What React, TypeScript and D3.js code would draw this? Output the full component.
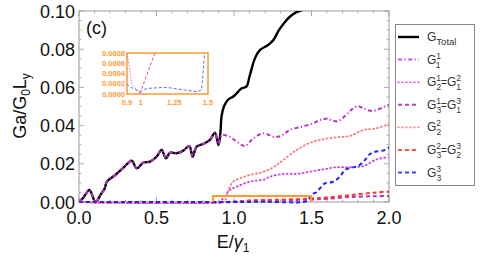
import React from "react";
import * as d3 from "d3";

// ---- data ----
const eTotal = [0, 0.03, 0.067, 0.107, 0.14, 0.165, 0.18, 0.232, 0.285, 0.34, 0.372, 0.415, 0.458, 0.5, 0.533, 0.561, 0.587, 0.63, 0.673, 0.712, 0.733, 0.759, 0.802, 0.845, 0.877, 0.9, 0.912, 0.92, 0.935, 0.96, 1.0, 1.05, 1.08, 1.1, 1.135, 1.168, 1.22, 1.254, 1.29, 1.33, 1.36, 1.4, 1.44];
const gTotal = [0, 0.0025, 0.0063, 0, 0.004, 0.007, 0.0106, 0.014, 0.0178, 0.0216, 0.0176, 0.0206, 0.0211, 0.0237, 0.0272, 0.0229, 0.0258, 0.0255, 0.0269, 0.0293, 0.0237, 0.029, 0.0304, 0.0325, 0.0363, 0.0298, 0.036, 0.045, 0.05, 0.0534, 0.0555, 0.0595, 0.0604, 0.0656, 0.0752, 0.0796, 0.0822, 0.0848, 0.09, 0.0944, 0.097, 0.0993, 0.1005];

const e11 = [0, 0.03, 0.067, 0.107, 0.14, 0.165, 0.18, 0.232, 0.285, 0.34, 0.372, 0.415, 0.458, 0.5, 0.533, 0.561, 0.587, 0.63, 0.673, 0.712, 0.733, 0.759, 0.802, 0.845, 0.877, 0.9, 0.92, 0.95, 0.98, 1.02, 1.07, 1.12, 1.19, 1.254, 1.3, 1.36, 1.437, 1.51, 1.555, 1.6, 1.64, 1.673, 1.716, 1.76, 1.8, 1.834, 1.877, 1.92, 1.96, 2.0];
const g11 = [0, 0.0025, 0.0063, 0, 0.004, 0.007, 0.0106, 0.014, 0.0178, 0.0216, 0.0176, 0.0206, 0.0211, 0.0237, 0.0272, 0.0229, 0.0258, 0.0255, 0.0269, 0.0293, 0.0237, 0.029, 0.0304, 0.0325, 0.0363, 0.0305, 0.035, 0.0348, 0.0338, 0.0315, 0.0293, 0.033, 0.036, 0.0342, 0.0345, 0.0377, 0.0394, 0.0412, 0.0429, 0.0436, 0.0425, 0.0424, 0.045, 0.0485, 0.0502, 0.049, 0.0478, 0.0482, 0.0495, 0.051];

const e21 = [0, 0.9, 0.92, 0.974, 1.017, 1.1, 1.2, 1.232, 1.318, 1.404, 1.49, 1.576, 1.66, 1.748, 1.834, 1.92, 2.0];
const g21 = [0, 0, 0.001, 0.0063, 0.008, 0.0106, 0.0119, 0.0133, 0.0147, 0.0147, 0.0159, 0.0171, 0.0182, 0.0182, 0.0188, 0.0223, 0.0235];

const e31 = [0, 0.95, 1.0, 1.2, 1.5, 1.6, 1.75, 1.9, 2.0];
const g31 = [0, 0, 0.0003, 0.0008, 0.0013, 0.0017, 0.0026, 0.003, 0.0031];

const e22 = [0, 0.93, 0.963, 0.995, 1.04, 1.1, 1.168, 1.22, 1.27, 1.318, 1.404, 1.49, 1.576, 1.66, 1.748, 1.834, 1.92, 2.0];
const g22 = [0, 0, 0.0063, 0.0106, 0.0124, 0.0141, 0.0153, 0.0168, 0.019, 0.022, 0.0272, 0.031, 0.0328, 0.0339, 0.0346, 0.0377, 0.0386, 0.041];

const e32 = [0, 1.0, 1.1, 1.3, 1.5, 1.6, 1.75, 1.9, 2.0];
const g32 = [0, 0, 0.0008, 0.0012, 0.0018, 0.0023, 0.0036, 0.0049, 0.0055];

const e33 = [0, 1.0, 1.2, 1.45, 1.48, 1.5, 1.53, 1.555, 1.587, 1.64, 1.684, 1.716, 1.76, 1.8, 1.845, 1.877, 1.91, 1.974, 2.0];
const g33 = [0, 0, 0.0001, 0.00005, 0.001, 0.004, 0.005, 0.0072, 0.0098, 0.0106, 0.0133, 0.0168, 0.018, 0.0188, 0.022, 0.0251, 0.0263, 0.0272, 0.0286];

// inset data
const insetBlueE = [0.9, 0.922, 0.996, 1.046, 1.19, 1.416, 1.453, 1.475];
const insetBlueG = [0.0002, 0.00014, 0.000045, 0.00011, 0.00013, 0.000045, 0.00008, 0.0008];
const insetPinkE = [0.996, 1.107];
const insetPinkG = [0.00001, 0.0008];
const insetDotE = [0.9, 0.922, 0.935, 0.984, 1.0];
const insetDotG = [0.0008, 0.00047, 0.0002, 0.00004, 0.00002];

const xTicks = [0, 0.5, 1.0, 1.5, 2.0];
const yTicks = [0, 0.02, 0.04, 0.06, 0.08, 0.1];
const insetXTicks = [0.9, 1, 1.25, 1.5];
const insetXLabels = ["0.9", "1", "1.25", "1.5"];
const insetYTicks = [0, 0.0002, 0.0004, 0.0006, 0.0008];

// legend names: superscript digit then subscript digit
const legendNames = ["Total", "11", "12=21", "13=31", "22", "23=32", "33"];

const W = 485, H = 263;
const L = 79, R = 389, T = 11, B = 202;

const series = [
  { e: eTotal, g: gTotal, color: "#000000", width: 2.4, dash: "" },
  { e: e21, g: g21, color: "#cc44e0", width: 1.8, dash: "1,3" },
  { e: e22, g: g22, color: "#ff7777", width: 1.8, dash: "1,3" },
  { e: e31, g: g31, color: "#b030c0", width: 2, dash: "4,3" },
  { e: e32, g: g32, color: "#ff3333", width: 2, dash: "4,3" },
  { e: e33, g: g33, color: "#2222ff", width: 2, dash: "4,3" },
  { e: e11, g: g11, color: "#c030d0", width: 2, dash: "4,2.5,1.2,2.5" },
];

const legendStyles = [
  { color: "#000000", width: 2.4, dash: "" },
  { color: "#d050e8", width: 2, dash: "4,2.5,1.2,2.5" },
  { color: "#dd55ee", width: 1.6, dash: "1,3" },
  { color: "#b040c8", width: 2, dash: "4,3" },
  { color: "#ff9090", width: 1.6, dash: "1,3" },
  { color: "#ff5050", width: 2, dash: "4,3" },
  { color: "#4444ff", width: 2, dash: "4,3" },
];

function LegendLabel({ x, y, name }: { x: number; y: number; name: string }) {
  const fs = 12, ss = 8.5;
  const parts = name === "Total" ? null : name.split("=");
  const col = "#333";
  if (!parts) {
    return (
      <text x={x} y={y + 4} fontSize={fs} fill={col} fontFamily="Liberation Sans, Arial, sans-serif">
        G<tspan fontSize={ss + 1} dy={4}>Total</tspan>
      </text>
    );
  }
  const children: any[] = [];
  parts.forEach((p, i) => {
    const sup = p[0], sub = p[1];
    if (i > 0) children.push(<tspan key={"eq" + i} fontSize={fs - 2} dy={-4}>=</tspan>);
    children.push(<tspan key={"g" + i} fontSize={fs}>G</tspan>);
    children.push(<tspan key={"sup" + i} fontSize={ss} dy={-5}>{sup}</tspan>);
    children.push(<tspan key={"sub" + i} fontSize={ss} dx={-4.7} dy={9}>{sub}</tspan>);
  });
  return (
    <text x={x} y={y + 4} fill={col} fontFamily="Liberation Sans, Arial, sans-serif">
      {children}
    </text>
  );
}

export default function App() {
  const x = d3.scaleLinear().domain([0, 2]).range([L, R]);
  const y = d3.scaleLinear().domain([0, 0.1]).range([B, T]);
  const line = (e: number[], g: number[]) =>
    d3.line<number>().x((_, i) => x(e[i])).y((_, i) => y(g[i])).curve(d3.curveCatmullRom.alpha(0.5))(e) || "";

  const ix = d3.scaleLinear().domain([0.9, 1.5]).range([127, 208]);
  const iy = d3.scaleLinear().domain([0, 0.0008]).range([94, 53]);
  const iline = (e: number[], g: number[]) =>
    d3.line<number>().x((_, i) => ix(e[i])).y((_, i) => iy(g[i]))(e) || "";

  const frame = "#999";
  const xMinor = d3.range(0, 2.0001, 0.1);
  const yMinor = d3.range(0, 0.10001, 0.005);
  const font = "Liberation Sans, Arial, sans-serif";
  const orange = "#ff9a33";

  return (
    <svg width={W} height={H} style={{ position: "absolute", left: 0, top: 0, background: "#fff" }}>
      <defs>
        <clipPath id="plotclip">
          <rect x={L} y={T} width={R - L} height={B - T + 2} />
        </clipPath>
        <clipPath id="insetclip">
          <rect x={127} y={53} width={81} height={41} />
        </clipPath>
      </defs>
      {/* ticks */}
      {xMinor.map((v, i) => {
        const major = Math.abs(v * 2 - Math.round(v * 2)) < 1e-6;
        const len = major ? 5 : 2.5;
        return (
          <g key={"xt" + i} stroke={frame} strokeWidth={0.8}>
            <line x1={x(v)} x2={x(v)} y1={B} y2={B - len} />
            <line x1={x(v)} x2={x(v)} y1={T} y2={T + len} />
          </g>
        );
      })}
      {yMinor.map((v, i) => {
        const major = i % 4 === 0;
        const len = major ? 5 : 2.5;
        return (
          <g key={"yt" + i} stroke={frame} strokeWidth={0.8}>
            <line x1={L} x2={L + len} y1={y(v)} y2={y(v)} />
            <line x1={R} x2={R - len} y1={y(v)} y2={y(v)} />
          </g>
        );
      })}
      <rect x={L} y={T} width={R - L} height={B - T} fill="none" stroke={frame} strokeWidth={1} />

      {/* series */}
      <g clipPath="url(#plotclip)" fill="none">
        {series.map((s, i) => (
          <path key={i} d={line(s.e, s.g)} stroke={s.color} strokeWidth={s.width}
            strokeDasharray={s.dash || undefined} strokeLinecap={s.dash === "1,3" ? "round" : "butt"} />
        ))}
      </g>

      {/* orange box marker */}
      <path d={`M${x(0.865)},${y(0)} V${y(0.0031)} H${x(1.497)} V${y(0)}`} fill="none" stroke={orange} strokeWidth={2} />

      {/* axis labels */}
      {xTicks.map((v) => (
        <text key={"xl" + v} x={x(v)} y={224} fontSize={18} textAnchor="middle" fontFamily={font} fill="#111">
          {v.toFixed(1)}
        </text>
      ))}
      {yTicks.map((v) => (
        <text key={"yl" + v} x={75} y={y(v) + 6.5} fontSize={18} textAnchor="end" fontFamily={font} fill="#111">
          {v.toFixed(2)}
        </text>
      ))}
      <text x={233} y={248} fontSize={18} textAnchor="middle" fontFamily={font} fill="#111">
        E/<tspan fontStyle="italic">γ</tspan><tspan fontSize={12} dy={4}>1</tspan>
      </text>
      <text transform={`translate(26,106) rotate(-90)`} fontSize={18} textAnchor="middle" fontFamily={font} fill="#111">
        Ga/G<tspan fontSize={12} dy={4}>0</tspan><tspan dy={-4}>L</tspan><tspan fontSize={12} dy={4}>y</tspan>
      </text>
      <text x={86} y={34} fontSize={18} fontFamily={font} fill="#111">(c)</text>

      {/* inset */}
      <g>
        <rect x={127} y={53} width={81} height={41} fill="#fff" stroke={orange} strokeWidth={1.5} />
        <g fill="none" clipPath="url(#insetclip)">
          <path d={iline(insetDotE, insetDotG)} stroke="#e070c0" strokeWidth={1} strokeDasharray="1.5,1.5" />
          <path d={iline(insetPinkE, insetPinkG)} stroke="#e0508a" strokeWidth={1} strokeDasharray="3,2" />
          <path d={iline(insetBlueE, insetBlueG)} stroke="#6666ee" strokeWidth={1} strokeDasharray="3,2" />
        </g>
        {insetYTicks.map((v) => (
          <text key={"iy" + v} x={125} y={iy(v) + 2.5} fontSize={7.5} fontWeight="bold" textAnchor="end" fontFamily={font} fill={orange}>
            {v.toFixed(4)}
          </text>
        ))}
        {insetXTicks.map((v, i) => (
          <text key={"ix" + v} x={ix(v)} y={105} fontSize={7.5} fontWeight="bold" textAnchor="middle" fontFamily={font} fill={orange}>
            {insetXLabels[i]}
          </text>
        ))}
      </g>

      {/* legend */}
      <rect x={395.5} y={24.5} width={79} height={161} fill="#fff" stroke="#888" strokeWidth={1} />
      {legendNames.map((n, i) => {
        const yy = 37 + i * 22.6;
        const st = legendStyles[i];
        return (
          <g key={"lg" + i}>
            <line x1={398} x2={419} y1={yy} y2={yy} stroke={st.color} strokeWidth={st.width}
              strokeDasharray={st.dash || undefined} strokeLinecap={st.dash === "1,3" ? "round" : "butt"} />
            <LegendLabel x={427} y={yy} name={n} />
          </g>
        );
      })}
    </svg>
  );
}
